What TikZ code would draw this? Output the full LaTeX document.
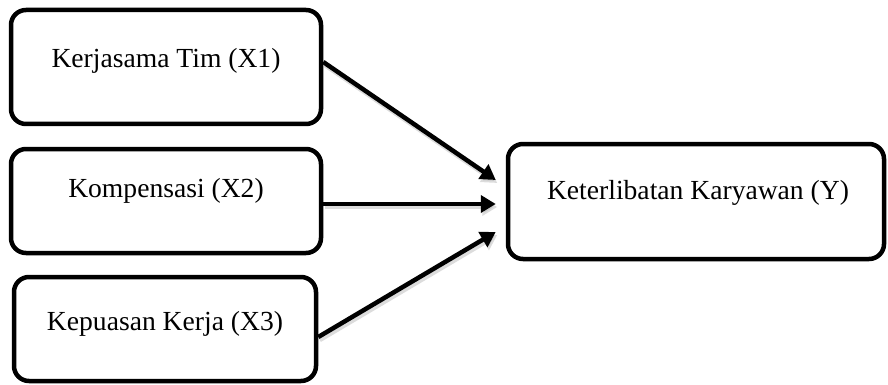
\documentclass[tikz,border=0pt]{standalone}
\usepackage{fontspec}
\setmainfont{Liberation Serif}
\usetikzlibrary{arrows.meta}
\begin{document}
\begin{tikzpicture}[x=1pt,y=-1pt,
  box/.style={draw=black,line width=4.5pt,rounded corners=15pt,fill=white,inner sep=0pt},
  lbl/.style={font=\fontsize{27.6}{31}\selectfont,inner sep=0pt},
  arr/.style={line width=4.5pt,-{Triangle[length=15pt,width=17pt]},
    preaction={draw=black!30,opacity=0.45,line width=4.5pt,-{Triangle[length=15pt,width=17pt]},transform canvas={shift={(1.5pt,-3pt)}}}}]
\useasboundingbox (0,0) rectangle (888,385);
\node[box,minimum width=310pt,minimum height=114pt] (b1) at (166,67) {};
\node[box,minimum width=310pt,minimum height=104pt] (b2) at (166,201) {};
\node[box,minimum width=302pt,minimum height=104pt] (b3) at (165,329) {};
\node[box,minimum width=376pt,minimum height=115pt] (y) at (696,201.5) {};
\node[lbl] (t1) at (166,61) {Kerjasama Tim (X1)};
\node[lbl] (t2) at (166,191) {Kompensasi (X2)};
\node[lbl] (t3) at (165,324) {Kepuasan Kerja (X3)};
\node[lbl] (ty) at (698,193) {Keterlibatan Karyawan (Y)};
\draw[arr] ([yshift=5pt]b1.east) -- ([xshift=-10pt,yshift=21.5pt]y.west);
\draw[arr] ([yshift=-3pt]b2.east) -- ([xshift=-10pt,yshift=-2.5pt]y.west);
\draw[arr] ([yshift=-8pt]b3.east) -- ([xshift=-10pt,yshift=-30.5pt]y.west);
\end{tikzpicture}
\end{document}
